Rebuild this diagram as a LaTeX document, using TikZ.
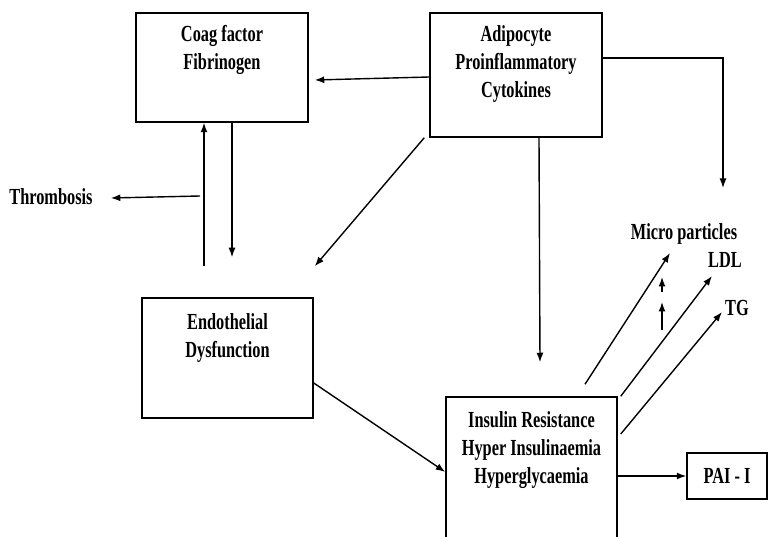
\documentclass[tikz,border=0pt]{standalone}
\usepackage{fontspec}
\setmainfont{Liberation Serif}[FakeStretch=0.71]
\usetikzlibrary{arrows.meta,positioning}

\tikzset{
  box/.style={draw,line width=1.5pt,inner sep=0pt},
  lbl/.style={align=center,inner sep=0pt,font=\bfseries\fontsize{23}{28}\selectfont},
  arr/.style={-{Latex[length=9.5pt,width=7pt]},line width=1.4pt},
}

\begin{document}
\begin{tikzpicture}[x=1pt,y=-1pt]
    \useasboundingbox (0,0) rectangle (769,537);
    % boxes
    \node[box,minimum width=172pt,minimum height=109pt] (coag) at (222,67.5) {};
    \node[lbl,below=13pt of coag.north] (coagtxt) {Coag factor\\Fibrinogen};
    \node[box,minimum width=172pt,minimum height=124pt] (adipo) at (516,75) {};
    \node[lbl,below=13pt of adipo.north] (adipotxt) {Adipocyte\\Proinflammatory\\Cytokines};
    \node[box,minimum width=171pt,minimum height=120pt] (endo) at (227.5,358) {};
    \node[lbl,below=16pt of endo.north] (endotxt) {Endothelial\\Dysfunction};
    \node[box,minimum width=171pt,minimum height=158pt] (insulin) at (531.5,476) {};
    \node[lbl,below=15pt of insulin.north] (insulintxt) {Insulin Resistance\\Hyper Insulinaemia\\Hyperglycaemia};
    \node[box,lbl,minimum width=80pt,minimum height=46pt] (pai) at (727,476) {PAI - I};
    % free labels
    \node[lbl] (thromb) at (51,197) {Thrombosis};
    \node[lbl] (micro) at (684,234) {Micro particles};
    \node[lbl] (ldl) at (725,260) {LDL};
    \node[lbl] (tg) at (737,308) {TG};
    \coordinate (mptop) at (723,188);
    \coordinate (branch) at (200,196);
    \coordinate (up1) at (662,330);
    \coordinate (up2) at (662,292);
    % arrows
    \draw[arr] ([yshift=-2pt]adipo.west) -- ([xshift=6pt,yshift=-12.5pt]coag.east);
    \draw[arr] ([yshift=17pt]adipo.east) -| (mptop);
    \draw[arr] ([xshift=-5pt]adipo.south west) -- ([xshift=1pt,yshift=31pt]endo.north east);
    \draw[arr] ([xshift=23pt]adipo.south) -- ([xshift=8.5pt,yshift=34pt]insulin.north);
    \draw[arr] ([xshift=-23.5pt,yshift=31pt]endo.north) -- ([xshift=-18pt]coag.south);
    \draw[arr] ([xshift=10pt]coag.south) -- ([xshift=4.5pt,yshift=40pt]endo.north);
    \draw[arr] (branch) -- ([xshift=18pt,yshift=-1pt]thromb.east);
    \draw[arr] ([yshift=-25pt]endo.east) -- ([yshift=4pt]insulin.west);
    \draw[arr] ([xshift=53.5pt,yshift=12pt]insulin.north) -- ([xshift=-14pt,yshift=-19pt]micro.center);
    \draw[arr] ([xshift=3pt]insulin.north east) -- ([xshift=-13pt,yshift=-16pt]ldl.center);
    \draw[arr] ([xshift=3pt,yshift=42pt]insulin.east) -- ([xshift=-15pt,yshift=-4pt]tg.center);
    \draw[arr] (up1) -- ++(0,-28);
    \draw[arr] (up2) -- ++(0,-15);
    \draw[arr] (insulin.east) -- (pai.west);
\end{tikzpicture}
\end{document}
